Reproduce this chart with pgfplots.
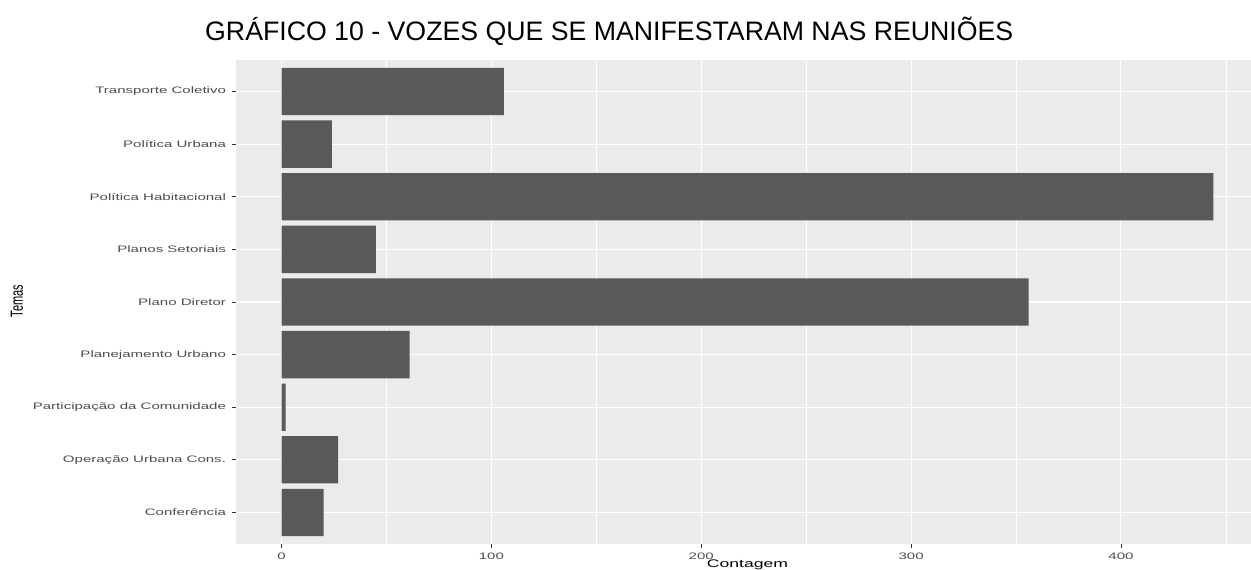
\documentclass[border=0pt]{standalone}
\usepackage{pgfplots}
\pgfplotsset{compat=1.18}
\usepackage{fontspec}
\setmainfont{Liberation Sans}
\definecolor{ggbg}{HTML}{EBEBEB}
\definecolor{ggbar}{HTML}{595959}
\definecolor{ggtxt}{HTML}{4D4D4D}
\definecolor{ggtick}{HTML}{333333}
\newcommand{\sx}[1]{\scalebox{1.6}[1]{#1}}
\begin{document}
\begin{tikzpicture}[x=1bp,y=1bp]
\useasboundingbox (0,0) rectangle (1251,570);
\begin{axis}[
  at={(236bp,26bp)}, anchor=south west,
  scale only axis, width=1015bp, height=484bp,
  xmin=-21.7, xmax=462, ymin=0.4, ymax=9.6,
  axis background/.style={fill=ggbg},
  axis x line*=bottom, axis y line*=left, axis line style={draw=none},
  xtick={0,100,200,300,400},
  xticklabels={\sx{0},\sx{100},\sx{200},\sx{300},\sx{400}},
  minor xtick={50,150,250,350,450},
  ytick={1,2,3,4,5,6,7,8,9},
  yticklabels={\sx{Conferência},\sx{Operação Urbana Cons.},\sx{Participação da Comunidade},\sx{Planejamento Urbano},\sx{Plano Diretor},\sx{Planos Setoriais},\sx{Política Habitacional},\sx{Política Urbana},\sx{Transporte Coletivo}},
  xmajorgrids, xminorgrids, ymajorgrids,
  major grid style={white, line width=1.1bp},
  minor grid style={white, line width=0.55bp},
  tick align=outside, major tick length=4.5bp, minor tick length=0pt,
  tick style={ggtick, line width=0.7bp},
  ticklabel style={font=\fontsize{9.4bp}{10bp}\selectfont, text=ggtxt},
  yticklabel style={xshift=-2bp},
  xticklabel style={yshift=-1bp},
  xbar, bar width=0.9, bar shift=0pt,
]
\addplot[fill=ggbar, draw=none] coordinates {(20,1) (27,2) (2,3) (61,4) (356,5) (45,6) (444,7) (24,8) (106,9)};
\end{axis}
\node[anchor=base west, inner sep=0pt, font=\fontsize{26.7bp}{28bp}\selectfont] at (205,529.3) {GRÁFICO 10 - VOZES QUE SE MANIFESTARAM NAS REUNIÕES};
\node[rotate=90, inner sep=0pt, font=\fontsize{11bp}{12bp}\selectfont] at (17,269) {\scalebox{1}[1.6]{Temas}};
\node[anchor=base, inner sep=0pt, font=\fontsize{11bp}{12bp}\selectfont] at (747.5,2.3) {\sx{Contagem}};
\end{tikzpicture}
\end{document}
